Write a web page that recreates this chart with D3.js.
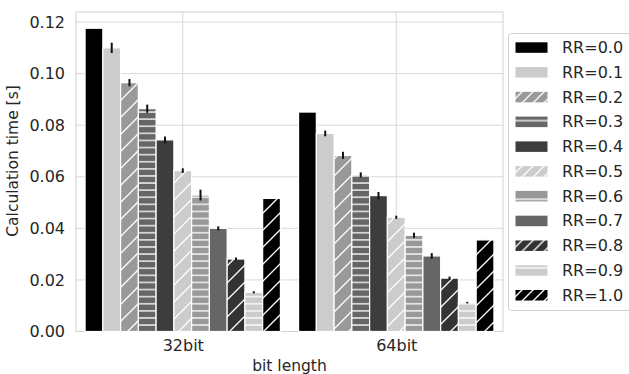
<!DOCTYPE html>
<html>
<head>
<meta charset="utf-8">
<script src="https://cdn.jsdelivr.net/npm/d3@7"></script>
<style>
  html, body { margin: 0; padding: 0; background: #fff; }
  svg { display: block; font-family: "DejaVu Sans", Verdana, sans-serif; }
</style>
</head>
<body>
<svg id="chart" width="629" height="374"></svg>
<script>
// Bit lengths on the x axis
const categories = ["32bit", "64bit"];
// Re-randomisation rate series
const seriesLabels = ["RR=0.0", "RR=0.1", "RR=0.2", "RR=0.3", "RR=0.4", "RR=0.5",
                      "RR=0.6", "RR=0.7", "RR=0.8", "RR=0.9", "RR=1.0"];
// Mean calculation time [s] per series, for 32bit and 64bit
const means32 = [0.1176, 0.1100, 0.0965, 0.0864, 0.0743, 0.0624, 0.0529, 0.0400, 0.0281, 0.0152, 0.0516];
const means64 = [0.0851, 0.0768, 0.0683, 0.0607, 0.0527, 0.0443, 0.0373, 0.0293, 0.0207, 0.0112, 0.0355];
// Half-width of the error bars [s]
const err32 = [0, 0.0020, 0.0014, 0.0016, 0.0013, 0.0009, 0.0021, 0.0008, 0.0006, 0.0004, 0];
const err64 = [0, 0.0011, 0.0014, 0.0010, 0.0014, 0.0006, 0.0010, 0.0011, 0.0006, 0.0003, 0];
// y-axis ticks
const yTicks = [0.00, 0.02, 0.04, 0.06, 0.08, 0.10, 0.12];

// Fill and hatch style per series
const fills   = ["#000000", "#cccccc", "#999999", "#666666", "#3d3d3d", "#cccccc",
                 "#999999", "#666666", "#333333", "#cccccc", "#000000"];
const hatches = ["", "", "/", "-", "", "/", "-", "", "/", "-", "/"];

const means = [means32, means64];
const errs = [err32, err64];

const svg = d3.select("#chart");
const margin = { left: 76, right: 503, top: 12, bottom: 331.5 };
const textColor = "#262626";
const tickFont = 16;
const labelFont = 15.5;

const x = d3.scaleLinear().domain([-0.5, categories.length - 0.5]).range([margin.left, margin.right]);
const y = d3.scaleLinear().domain([0, 0.1239]).range([margin.bottom, margin.top]);

const groupWidth = 0.915;
const inner = d3.scaleBand().domain(d3.range(seriesLabels.length)).range([-groupWidth / 2, groupWidth / 2]);

// Hatch patterns
const defs = svg.append("defs");
function makePattern(id, color, hatch, diagStep, lineStep, offsetY) {
  if (!hatch) return color;
  if (hatch === "/") {
    const s = diagStep;
    const p = defs.append("pattern").attr("id", id).attr("patternUnits", "userSpaceOnUse")
      .attr("width", s).attr("height", s);
    p.append("rect").attr("width", s).attr("height", s).attr("fill", color);
    p.append("path")
      .attr("d", `M-2,2 L2,-2 M0,${s} L${s},0 M${s - 2},${s + 2} L${s + 2},${s - 2}`)
      .attr("stroke", "#fff").attr("stroke-width", 1.3);
  } else {
    const s = lineStep;
    const p = defs.append("pattern").attr("id", id).attr("patternUnits", "userSpaceOnUse")
      .attr("width", 10).attr("height", s)
      .attr("patternTransform", `translate(0,${offsetY})`);
    p.append("rect").attr("width", 10).attr("height", s).attr("fill", color);
    p.append("line").attr("x1", 0).attr("x2", 10).attr("y1", s / 2).attr("y2", s / 2)
      .attr("stroke", "#fff").attr("stroke-width", 1.3);
  }
  return `url(#${id})`;
}
const barFill = fills.map((c, i) => makePattern("bar-h" + i, c, hatches[i], 17, 7.1, 2));
const legendFill = fills.map((c, i) => makePattern("leg-h" + i, c, hatches[i], 11, 10, -2.3 + 24.77 * i + 42));

// Grid and frame
const grid = svg.append("g");
grid.selectAll("line.hgrid").data(yTicks).join("line")
  .attr("x1", margin.left).attr("x2", margin.right)
  .attr("y1", d => y(d)).attr("y2", d => y(d))
  .attr("stroke", "#d9d9d9").attr("stroke-width", 1);
grid.selectAll("line.vgrid").data(categories).join("line")
  .attr("x1", (d, i) => x(i)).attr("x2", (d, i) => x(i))
  .attr("y1", margin.top).attr("y2", margin.bottom)
  .attr("stroke", "#d9d9d9").attr("stroke-width", 1);
svg.append("rect")
  .attr("x", margin.left).attr("y", margin.top)
  .attr("width", margin.right - margin.left).attr("height", margin.bottom - margin.top)
  .attr("fill", "none").attr("stroke", "#d0d0d0").attr("stroke-width", 1);

// Bars
const barData = [];
categories.forEach((c, ci) => {
  seriesLabels.forEach((s, si) => {
    barData.push({ ci, si, v: means[ci][si], e: errs[ci][si] });
  });
});
svg.append("g").selectAll("rect").data(barData).join("rect")
  .attr("x", d => x(d.ci + inner(d.si)))
  .attr("width", d => x(inner.bandwidth()) - x(0))
  .attr("y", d => y(d.v))
  .attr("height", d => y(0) - y(d.v))
  .attr("fill", d => barFill[d.si])
  .attr("stroke", "#fff").attr("stroke-width", 1.2);

// Error bars
svg.append("g").selectAll("line").data(barData.filter(d => d.e > 0)).join("line")
  .attr("x1", d => x(d.ci + inner(d.si) + inner.bandwidth() / 2))
  .attr("x2", d => x(d.ci + inner(d.si) + inner.bandwidth() / 2))
  .attr("y1", d => y(d.v - d.e)).attr("y2", d => y(d.v + d.e))
  .attr("stroke", "#111").attr("stroke-width", 2);

// Axes
const yAxis = svg.append("g").attr("transform", `translate(${margin.left},0)`)
  .call(d3.axisLeft(y).tickValues(yTicks).tickFormat(d3.format(".2f")).tickSize(0).tickPadding(11));
yAxis.select(".domain").remove();
yAxis.selectAll("text").attr("fill", textColor).style("font-size", tickFont + "px")
  .style("font-family", "DejaVu Sans");

const xAxis = svg.append("g").attr("transform", `translate(0,${margin.bottom})`)
  .call(d3.axisBottom(x).tickValues(d3.range(categories.length)).tickFormat(i => categories[i]).tickSize(0).tickPadding(8));
xAxis.select(".domain").remove();
xAxis.selectAll("text").attr("fill", textColor).style("font-size", tickFont + "px")
  .style("font-family", "DejaVu Sans");

svg.append("text")
  .attr("x", (margin.left + margin.right) / 2).attr("y", 370.5)
  .attr("text-anchor", "middle").attr("fill", textColor)
  .style("font-size", labelFont + "px").text("bit length");

svg.append("text")
  .attr("transform", `translate(18,161) rotate(-90)`)
  .attr("text-anchor", "middle").attr("fill", textColor)
  .style("font-size", labelFont + "px").text("Calculation time [s]");

// Legend
const legend = svg.append("g");
legend.append("rect")
  .attr("x", 508.5).attr("y", 33.5).attr("width", 140).attr("height", 277)
  .attr("rx", 3).attr("fill", "#fff").attr("fill-opacity", 0.8)
  .attr("stroke", "#cfcfcf").attr("stroke-width", 1);
const items = legend.selectAll("g.item").data(seriesLabels).join("g")
  .attr("transform", (d, i) => `translate(0,${47.3 + 24.77 * i})`);
items.append("rect")
  .attr("x", 515.5).attr("y", -5).attr("width", 32).attr("height", 10.5)
  .attr("fill", (d, i) => legendFill[i]);
items.append("text")
  .attr("x", 562).attr("y", 0).attr("dy", "0.36em")
  .attr("fill", textColor).style("font-size", tickFont + "px")
  .text(d => d);
</script>
</body>
</html>
